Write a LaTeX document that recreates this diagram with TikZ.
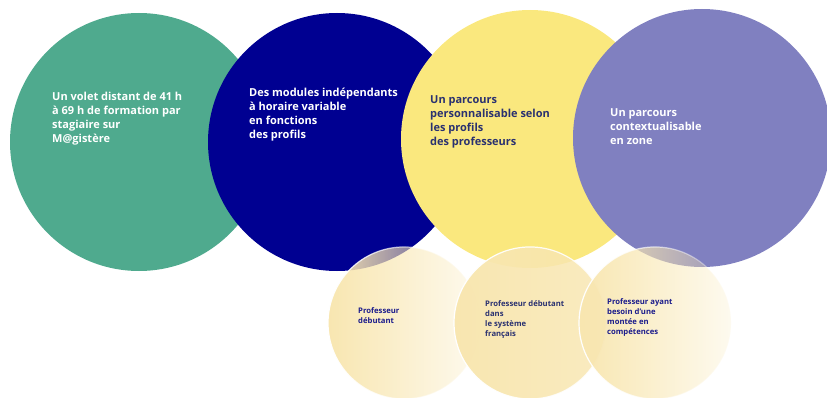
\documentclass[tikz,border=0pt]{standalone}
\usepackage{fontspec}
\setmainfont{Open Sans}
\usetikzlibrary{fadings}

\definecolor{vert}{HTML}{4FAA8E}
\definecolor{bleu}{HTML}{000091}
\definecolor{jaune}{HTML}{FAE87E}
\definecolor{violet}{HTML}{8080C0}
\definecolor{creme}{HTML}{F8E6B0}
\definecolor{encre}{HTML}{2A3170}
\definecolor{encrepetit}{HTML}{1C1C8C}

\tikzfading[name=fondu, left color=transparent!0, middle color=transparent!8, right color=transparent!80]
\tikzfading[name=fondudoux, left color=transparent!0, right color=transparent!20]

\tikzset{
grand/.style={circle, inner sep=0pt, minimum size=258pt},
petit/.style={circle, inner sep=0pt, minimum size=152pt, fill=creme,
  draw=white, line width=1.2pt, path fading=fondu},
texte/.style={anchor=north west, align=left, inner sep=0pt,
  font=\bfseries\fontsize{11}{14}\selectfont},
textepetit/.style={anchor=north west, align=left, inner sep=0pt,
  font=\bfseries\fontsize{7.7}{10}\selectfont, text=encrepetit}
}

\begin{document}
\begin{tikzpicture}[x=1pt,y=-1pt]
\useasboundingbox (0,0) rectangle (827,398);

\node (volet) at (139,142) [grand, fill=vert] {};
\node (modules) at (337,142) [grand, fill=bleu] {};
\node (perso) at (530,139) [grand, fill=jaune] {};
\node (zone) at (702,138) [grand, fill=violet] {};

\node (voletlabel) at (52,92) [texte, text=white] {Un volet distant de 41 h\\à 69 h de formation par\\stagiaire sur\\M@gistère};
\node (moduleslabel) at (249,88) [texte, text=white] {Des modules indépendants\\à horaire variable\\en fonctions\\des profils};
\node (persolabel) at (430,95.5) [texte, text=encre] {Un parcours\\personnalisable selon\\les profils\\des professeurs};
\node (zonelabel) at (610,108) [texte, text=white] {Un parcours\\contextualisable\\en zone};

\node (debutant) at (404,323) [petit] {};
\node (systeme) at (530,323) [petit, path fading=fondudoux] {};
\node (montee) at (655,323) [petit] {};

\node (debutantlabel) at (358,307) [textepetit] {Professeur\\débutant};
\node (systemelabel) at (485,300) [textepetit, text=encre] {Professeur débutant\\dans\\le système\\français};
\node (monteelabel) at (607,298.5) [textepetit] {Professeur ayant\\besoin d’une\\montée en\\compétences};

\end{tikzpicture}
\end{document}
